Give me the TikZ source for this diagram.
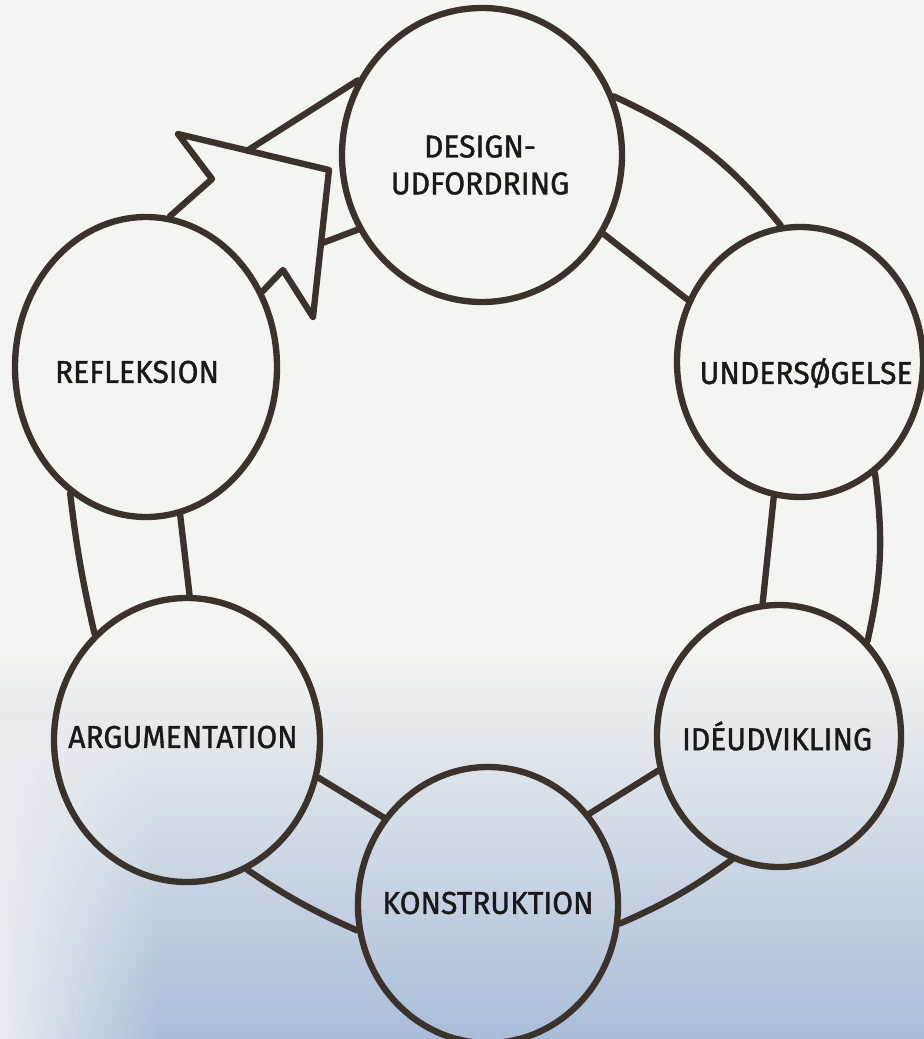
\documentclass[tikz,border=0pt]{standalone}
\usepackage{fontspec}
\setmainfont[FakeStretch=0.95, FakeBold=1.2]{Fira Sans}
\usetikzlibrary{shapes.geometric,calc,fadings}

\definecolor{ink}{RGB}{58,50,43}
\definecolor{paper}{RGB}{244,244,241}
\definecolor{tint}{RGB}{170,189,217}
\definecolor{gutter}{RGB}{234,237,240}

\tikzset{
  stage/.style={draw=ink, ellipse, line width=1.8pt, inner sep=0pt},
  stagetext/.style={font=\fontsize{9}{10.5}\selectfont, text=black!90, align=center},
  band/.style={draw=ink, line width=1.8pt, line cap=round, line join=round}
}

\begin{document}
\begin{tikzpicture}
  % page and the light falling on it
  \useasboundingbox (0,0) rectangle (9.24,-10.39);
  \fill[paper] (0,0) rectangle (9.24,-10.39);
  \shade[top color=paper, bottom color=tint] (0,-6.5) rectangle (9.24,-10.39);
  \fill[gutter, path fading=east] (0,-7.2) rectangle (1.6,-10.39);

  % the six stages
  \node[stage, minimum width=2.80cm, minimum height=2.94cm] (D) at (4.82,-1.55) {};
  \node[stage, minimum width=2.46cm, minimum height=2.70cm] (U) at (8.00,-3.62) {};
  \node[stage, minimum width=2.44cm, minimum height=2.62cm] (I) at (7.79,-7.36) {};
  \node[stage, minimum width=2.60cm, minimum height=2.76cm] (K) at (4.88,-9.05) {};
  \node[stage, minimum width=2.66cm, minimum height=2.84cm] (A) at (1.87,-7.40) {};
  \node[stage, minimum width=2.62cm, minimum height=3.00cm] (R) at (1.46,-3.67) {};

  \node[stagetext] (Dt) at (4.80,-1.65) {DESIGN-\\UDFORDRING};
  \node[stagetext] (Ut) at (8.06,-3.73) {UNDERSØGELSE};
  \node[stagetext] (It) at (7.77,-7.36) {IDÉUDVIKLING};
  \node[stagetext] (Kt) at (4.88,-9.03) {KONSTRUKTION};
  \node[stagetext] (At) at (1.83,-7.37) {ARGUMENTATION};
  \node[stagetext] (Rt) at (1.37,-3.72) {REFLEKSION};

  % the band that links them
  \draw[band] (D.24) to[bend left=13] (U.98);
  \draw[band] (D.-33) -- (U.151);
  \draw[band] (U.-56) to[bend left=10] (I.47);
  \draw[band] (U.-101) -- (I.97);
  \draw[band] (I.249) to[bend left=6] (K.-8);
  \draw[band] (I.196) -- (K.42);
  \draw[band] (K.191) to[bend left=5] (A.-65);
  \draw[band] (K.140) -- (A.-16);
  \draw[band] (A.131) to[bend left=3] (R.239);
  \draw[band] (A.89) -- (R.-77);

  % big open arrow from reflection back to the challenge
  \coordinate (n1) at (2.12,-1.79);
  \coordinate (b1) at (1.78,-1.34);
  \coordinate (tip) at (3.29,-1.70);
  \coordinate (b2) at (3.13,-3.17);
  \coordinate (n2) at (2.83,-2.70);
  \coordinate (a1) at ($(b1)!0.46!(tip)$);
  \coordinate (a2) at ($(tip)!0.5!(b2)$);
  \draw[band] (R.81) -- (n1) -- (b1) -- (tip) -- (b2) -- (n2) -- (R.33);
  \draw[band] (a1) -- (D.149);
  \draw[band] (a2) -- (D.211);
\end{tikzpicture}
\end{document}
